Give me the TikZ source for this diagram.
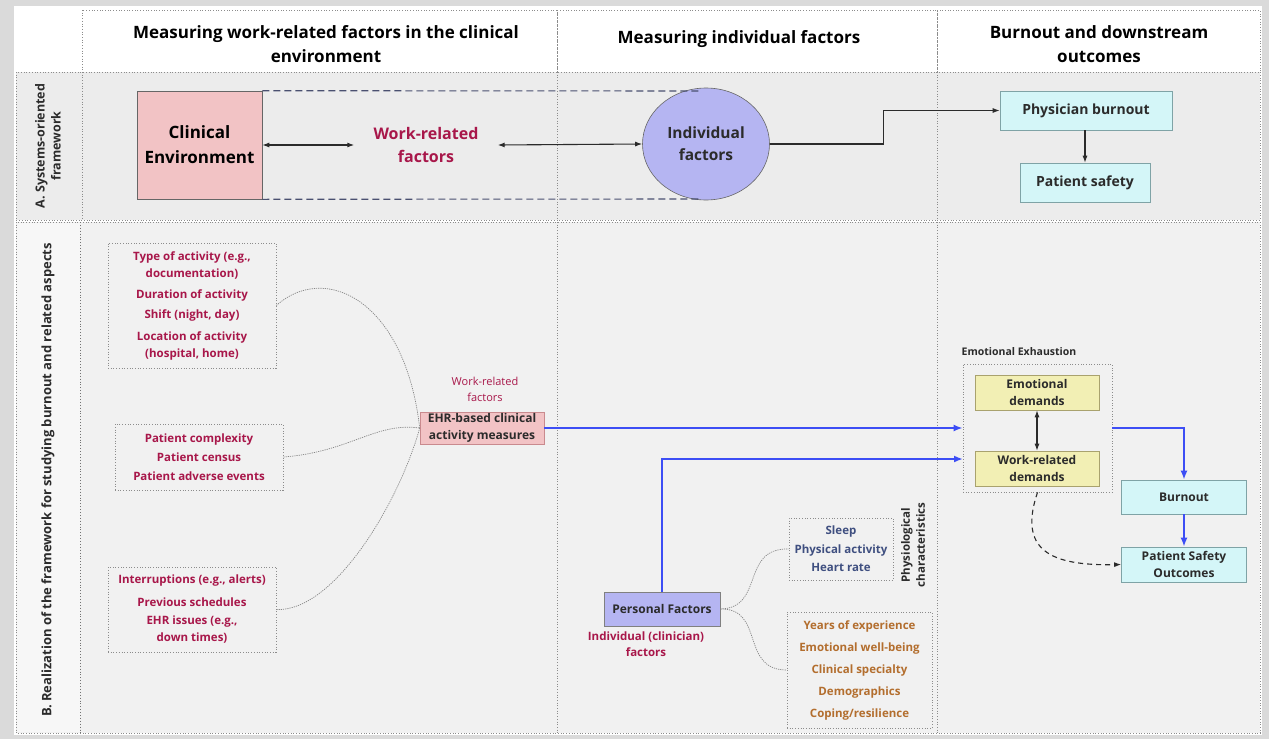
\documentclass[tikz,border=0pt]{standalone}
\usepackage{fontspec}
\setmainfont{Open Sans}
\usetikzlibrary{arrows.meta,shapes.geometric,calc}
\definecolor{outerbg}{HTML}{DADADA}
\definecolor{rowa}{HTML}{ECECEC}
\definecolor{rowb}{HTML}{F1F1F1}
\definecolor{dotgray}{HTML}{8C8C8C}
\definecolor{darkred}{HTML}{A8174A}
\definecolor{pinkfill}{HTML}{F2C3C5}
\definecolor{pinkedge}{HTML}{C98A8E}
\definecolor{purplefill}{HTML}{B5B5F2}
\definecolor{cyanfill}{HTML}{D4F6F8}
\definecolor{cyanedge}{HTML}{7FA3A6}
\definecolor{yellowfill}{HTML}{F2EFB4}
\definecolor{yellowedge}{HTML}{A9A26E}
\definecolor{arrowblue}{HTML}{3D4EF5}
\definecolor{physblue}{HTML}{3F4F80}
\definecolor{persorange}{HTML}{B36E2E}
\definecolor{textdark}{HTML}{2B2B2B}
\definecolor{dashblue}{HTML}{4A5070}
\newcommand{\fsz}[2]{\fontsize{#1}{#2}\selectfont}
\begin{document}
\begin{tikzpicture}[x=1pt,y=-1pt,
  dotbox/.style={draw=dotgray, dotted, line width=0.7pt},
  hdr/.style={font=\fsz{17}{24}\bfseries, align=center, text=black},
  listbox/.style={dotbox, inner sep=0pt, align=center, text=darkred, font=\fsz{11.5}{17}\bfseries},
  solidbox/.style={line width=0.6pt, inner sep=0pt, align=center, text=textdark},
  pinkbox/.style={solidbox, fill=pinkfill, draw=pinkedge},
  cyanbox/.style={solidbox, fill=cyanfill, draw=cyanedge},
  ybox/.style={solidbox, fill=yellowfill, draw=yellowedge},
  purplebox/.style={solidbox, fill=purplefill, draw=gray},
  arr/.style={-{Latex[length=7pt,width=5pt]}, line width=1.1pt, draw=textdark},
  darr/.style={{Latex[length=7pt,width=5pt]}-{Latex[length=7pt,width=5pt]}, line width=1.1pt, draw=textdark},
  bluearr/.style={-{Latex[length=9pt,width=7pt]}, line width=1.8pt, draw=arrowblue},
  bracecurve/.style={draw=gray!95, dash pattern=on 1.2pt off 1pt, line width=0.7pt},
  dashline/.style={draw=dashblue, dash pattern=on 7pt off 4pt, line width=1.1pt}
]
\useasboundingbox (0,0) rectangle (1269,739);
% backgrounds
\fill[outerbg] (0,0) rectangle (1269,739);
\fill[white] (14,6) rectangle (1262,735);
\draw[dotbox] (82,10) rectangle (557,72);
\draw[dotbox] (557,10) rectangle (937,72);
\draw[dotbox] (937,10) rectangle (1260,72);
\filldraw[fill=rowa, dotbox] (16,72) rectangle (1260,220);
\draw[dotbox] (82,72) -- (82,220);
\draw[dotbox] (557,72) -- (557,220);
\draw[dotbox] (937,72) -- (937,220);
\filldraw[fill=rowb, dotbox] (16,222) rectangle (1260,733);
\fill[white!40!rowb] (17,223) rectangle (80,732);
\draw[draw=gray!90!black, dotted, line width=0.9pt] (80,222) -- (80,733);
\draw[dotbox] (557,222) -- (557,733);
\draw[dotbox] (937,222) -- (937,733);

% headers
\node[hdr] (h1) at (326,44) {Measuring work-related factors in the clinical\\environment};
\node[hdr] (h2) at (739,39) {Measuring individual factors};
\node[hdr] (h3) at (1099,44) {Burnout and downstream\\outcomes};

% row labels
\node[rotate=90, font=\fsz{12.5}{16}\bfseries, align=center, text=textdark] (la) at (48,146) {A. Systems-oriented\\framework};
\node[rotate=90, font=\fsz{13}{16}\bfseries, text=textdark] (lb) at (48,480) {B. Realization of the framework for studying burnout and related aspects};

% row A
\node[pinkbox, draw=gray!80!black, minimum width=125pt, minimum height=108pt, font=\fsz{17}{25}\bfseries, text=black] (ce) at (199.5,145) {Clinical\\Environment};
\node[minimum width=143pt, inner sep=0pt, font=\fsz{16}{23}\bfseries, text=darkred, align=center] (wrf) at (426,145) {Work-related\\factors};
\node[ellipse, fill=purplefill, draw=gray!80!black, line width=0.6pt, minimum width=127pt, minimum height=112pt, inner sep=0pt, font=\fsz{15.5}{22}\bfseries, align=center, text=textdark] (ind) at (706,144) {Individual\\factors};
\coordinate (dtop) at (700,91);
\coordinate (dbot) at (700,199);
\draw[dashline] (ce.north east) -- (dtop);
\draw[dashline] (ce.south east) -- (dbot);
\draw[darr] (ce.east) -- (wrf.west);
\draw[darr] (wrf.east) -- (ind.west);
\node[cyanbox, minimum width=172pt, minimum height=39pt, font=\fsz{14}{18}\bfseries] (pb) at (1086,110.5) {Physician burnout};
\node[cyanbox, minimum width=130pt, minimum height=39pt, font=\fsz{14}{18}\bfseries] (ps) at (1085,182.5) {Patient safety};
\draw[arr] (ind.east) -- ++(114,0) |- (pb.west);
\draw[arr] (pb.south -| ps.north) -- (ps.north);

% row B left column
\node[listbox, minimum width=168pt, minimum height=125pt] (l1) at (192,305.5) {Type of activity (e.g.,\\documentation)\\[4pt]Duration of activity\\[3pt]Shift (night, day)\\[5pt]Location of activity\\(hospital, home)};
\node[listbox, minimum width=168pt, minimum height=66pt, font=\fsz{11.5}{19}\bfseries] (l2) at (199,457) {Patient complexity\\Patient census\\Patient adverse events};
\node[listbox, minimum width=168pt, minimum height=85pt] (l3) at (192,609.5) {Interruptions (e.g., alerts)\\[6pt]Previous schedules\\[1pt]EHR issues (e.g.,\\down times)};
\node[font=\fsz{11}{16}, text=darkred, align=center] (wrl) at (485,389) {Work-related\\factors};
\node[pinkbox, minimum width=124pt, minimum height=32pt, font=\fsz{12}{17}\bfseries] (ehr) at (482,428) {EHR-based clinical\\activity measures};
\draw[bracecurve] (l1.east) .. controls (325,262) and (405,300) .. (ehr.west);
\draw[bracecurve] (l2.east) .. controls (350,452) and (375,422) .. (ehr.west);
\draw[bracecurve] (l3.east) .. controls (335,612) and (400,500) .. (ehr.west);

% row B right column
\node[dotbox, minimum width=149pt, minimum height=128pt, inner sep=0pt] (ee) at (1037.5,428) {};
\node[font=\fsz{10.5}{13}\bfseries, text=textdark] (eel) at (1019,352) {Emotional Exhaustion};
\node[ybox, minimum width=124pt, minimum height=35pt, font=\fsz{12}{17}\bfseries] (ed) at (1037,392.5) {Emotional\\demands};
\node[ybox, minimum width=124pt, minimum height=35pt, font=\fsz{12}{17}\bfseries] (wd) at (1037,468.5) {Work-related\\demands};
\draw[darr] (ed.south) -- (wd.north);
\node[cyanbox, minimum width=125pt, minimum height=34pt, font=\fsz{12}{17}\bfseries] (bo) at (1184,497) {Burnout};
\node[cyanbox, minimum width=125pt, minimum height=35pt, font=\fsz{12}{17}\bfseries] (pso) at (1184,564.5) {Patient Safety\\Outcomes};
\draw[bluearr] (ee.east) -| (bo.north);
\draw[bluearr] (bo.south) -- (pso.north);
\draw[-{Latex[length=7pt,width=5pt]}, draw=textdark, dash pattern=on 5pt off 4pt, line width=1.1pt] (ee.south) .. controls (1018,550) and (1050,566) .. (pso.west);

% row B middle column
\node[purplebox, minimum width=116pt, minimum height=34pt, font=\fsz{12}{17}\bfseries] (pf) at (662,609) {Personal Factors};
\node[font=\fsz{11.5}{16}\bfseries, text=darkred, align=center] (pfl) at (646,644) {Individual (clinician)\\factors};
\node[dotbox, minimum width=104pt, minimum height=62pt, inner sep=0pt, text=physblue, font=\fsz{11.5}{18.5}\bfseries, align=center] (phys) at (841,549) {Sleep\\Physical activity\\Heart rate};
\node[rotate=90, font=\fsz{11.5}{15}\bfseries, align=center, text=textdark] (physl) at (913,545) {Physiological\\characteristics};
\node[dotbox, minimum width=145pt, minimum height=116pt, inner sep=0pt, text=persorange, font=\fsz{11.5}{22}\bfseries, align=center] (pers) at (859.5,670) {Years of experience\\Emotional well-being\\Clinical specialty\\Demographics\\Coping/resilience};
\draw[bracecurve] (pf.east) .. controls (765,608) and (740,548) .. (phys.west);
\draw[bracecurve] (pf.east) .. controls (765,608) and (740,670) .. (pers.west);

% blue connectors
\coordinate (eein) at (963,459);
\draw[bluearr] (ehr.east) -- (ehr.east -| ee.west);
\draw[bluearr] (pf.north) |- (eein);
\end{tikzpicture}
\end{document}
